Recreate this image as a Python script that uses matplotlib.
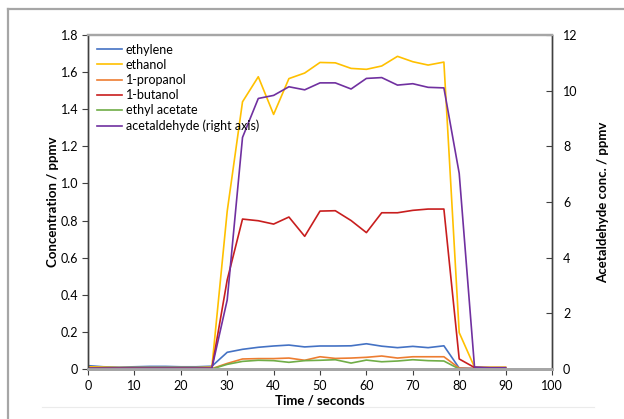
import numpy as np
import matplotlib
matplotlib.use("Agg")
import matplotlib.pyplot as plt
from matplotlib.lines import Line2D

plt.rcParams['font.family'] = ['Lato', 'DejaVu Sans']

# sampling times (s)
t = [0, 3.3, 6.7, 10, 13.3, 16.7, 20, 23.3, 26.7, 30, 33.3, 36.7, 40, 43.3,
     46.7, 50, 53.3, 56.7, 60, 63.3, 66.7, 70, 73.3, 76.7, 80, 83.3, 86.7, 90]

# left axis series (ppmv)
ethylene = [0.018, 0.012, 0.010, 0.012, 0.014, 0.014, 0.012, 0.012, 0.015, 0.090,
            0.106, 0.117, 0.124, 0.129, 0.119, 0.124, 0.124, 0.125, 0.136, 0.123,
            0.115, 0.122, 0.115, 0.125, 0.005, 0.003, 0.003, 0.003]
ethanol = [0.012, 0.010, 0.008, 0.008, 0.008, 0.008, 0.008, 0.008, 0.010, 0.85,
           1.44, 1.575, 1.372, 1.565, 1.595, 1.652, 1.650, 1.620, 1.615, 1.633,
           1.685, 1.656, 1.638, 1.654, 0.196, 0.010, 0.010, 0.010]
propanol = [0.003, 0.003, 0.003, 0.003, 0.003, 0.003, 0.003, 0.003, 0.002, 0.030,
            0.054, 0.056, 0.056, 0.059, 0.047, 0.066, 0.057, 0.059, 0.063, 0.070,
            0.059, 0.066, 0.066, 0.066, 0.005, 0.002, 0.002, 0.002]
butanol = [0.004, 0.004, 0.004, 0.004, 0.004, 0.004, 0.004, 0.004, 0.004, 0.48,
           0.808, 0.799, 0.781, 0.819, 0.715, 0.851, 0.853, 0.800, 0.735, 0.842,
           0.842, 0.855, 0.862, 0.862, 0.054, 0.008, 0.005, 0.005]
ethyl_acetate = [0.002, 0.002, 0.002, 0.002, 0.002, 0.002, 0.002, 0.002, 0.0, 0.025,
                 0.041, 0.047, 0.045, 0.036, 0.045, 0.047, 0.050, 0.032, 0.048, 0.039,
                 0.043, 0.050, 0.045, 0.043, 0.0, 0.0, 0.0, 0.0]
# right axis series (ppmv)
acetaldehyde = [0.03, 0.03, 0.03, 0.03, 0.03, 0.03, 0.03, 0.03, 0.03, 2.48,
                8.32, 9.72, 9.83, 10.14, 10.03, 10.28, 10.28, 10.06, 10.44, 10.47,
                10.20, 10.25, 10.12, 10.10, 7.03, 0.07, 0.05, 0.05]

left_series = [("ethylene", ethylene, "#4472C4"),
               ("ethanol", ethanol, "#FFC000"),
               ("1-propanol", propanol, "#ED7D31"),
               ("1-butanol", butanol, "#C81E1E"),
               ("ethyl acetate", ethyl_acetate, "#70AD47")]

fig = plt.figure(figsize=(6.24, 4.19), dpi=100)
ax = fig.add_axes([88/624, 1-369/419, 464/624, 334/419])
ax2 = ax.twinx()

handles = []
for name, vals, col in left_series:
    h, = ax.plot(t, vals, color=col, lw=1.2, label=name)
    handles.append(h)
h, = ax2.plot(t, acetaldehyde, color="#7030A0", lw=1.2, label="acetaldehyde (right axis)")
handles.append(h)

ax.set_xlim(0, 100)
ax.set_ylim(0, 1.8)
ax2.set_ylim(0, 12)
ax.set_xticks(np.arange(0, 101, 10))
ax.set_yticks(np.arange(0, 1.81, 0.2))
ax.set_yticklabels(["0"] + ["%.1f" % v for v in np.arange(0.2, 1.81, 0.2)])
ax2.set_yticks(np.arange(0, 13, 2))

for a in (ax, ax2):
    a.spines['top'].set_color('#A6A6A6')
    a.spines['top'].set_linewidth(1.6)
    a.spines['bottom'].set_color('#A6A6A6')
    a.spines['bottom'].set_linewidth(2.0)
    a.spines['left'].set_color('#404040')
    a.spines['right'].set_color('#404040')
    a.spines['left'].set_linewidth(1.0)
    a.spines['right'].set_linewidth(1.0)

ax.tick_params(axis='y', direction='out', length=4, width=0.8, color='#404040',
               labelsize=9, pad=3)
ax.tick_params(axis='x', direction='out', length=4, width=0.8, color='#404040',
               labelsize=9, pad=4)
ax2.tick_params(axis='y', direction='in', length=4, width=0.8, color='#404040',
                labelsize=9, pad=8)

ax.set_xlabel("Time / seconds", fontsize=9.5, fontweight='bold')
ax.set_ylabel("Concentration / ppmv", fontsize=9.5, fontweight='bold')
ax2.set_ylabel("Acetaldehyde conc. / ppmv", fontsize=9.5, fontweight='bold')
ax.xaxis.set_label_coords(0.5, -0.075)
ax.yaxis.set_label_coords(-0.062, 0.5)
ax2.yaxis.set_label_coords(1.097, 0.5)

ax2.legend(handles=handles, loc='upper left', bbox_to_anchor=(0.0, 1.0),
           frameon=False, fontsize=9, handlelength=2.0, handletextpad=0.3,
           labelspacing=0.25, borderaxespad=0.3)

# outer frame and faint bottom separator
fig.add_artist(Line2D([8/624, 1.0], [1-9/419, 1-9/419], color='#A6A6A6', lw=1.6))
fig.add_artist(Line2D([8/624, 8/624], [0.0, 1-9/419], color='#A6A6A6', lw=1.6))
fig.add_artist(Line2D([42/624, 594/624], [1-407/419, 1-407/419], color='#EBEBEB', lw=0.8))

fig.savefig("out.png", dpi=100)
